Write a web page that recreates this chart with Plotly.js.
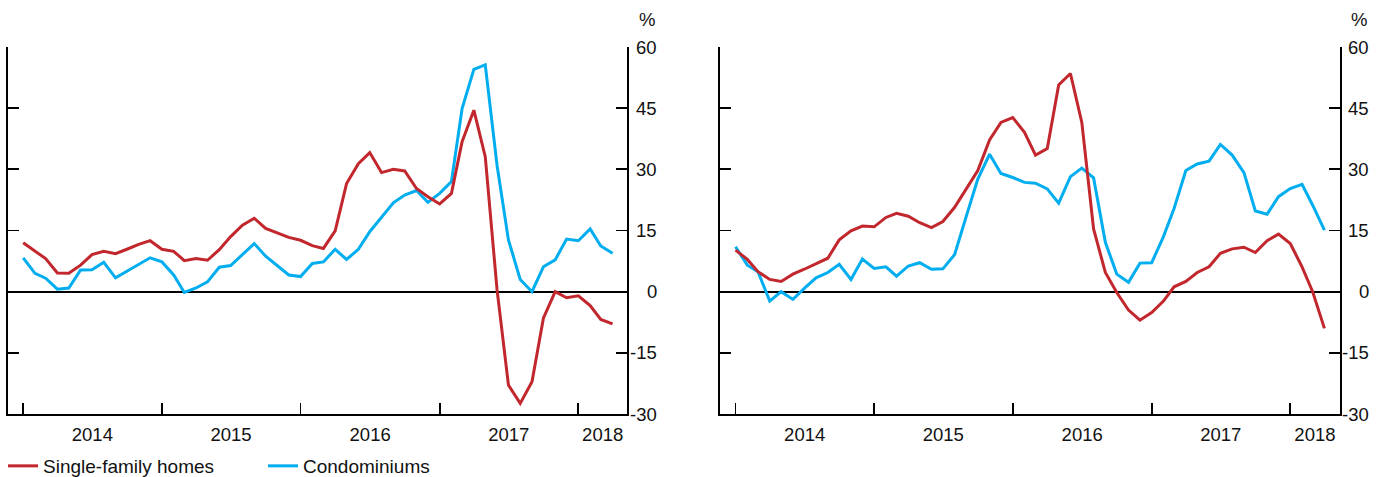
<!DOCTYPE html>
<html><head><meta charset="utf-8">
<script src="https://cdn.plot.ly/plotly-3.0.1.min.js"></script>
<style>html,body{margin:0;padding:0;background:#fff}#chart{width:1382px;height:477px}</style>
</head><body><div id="chart"></div>
<script>
// Monthly observations, Jan 2014 .. Apr 2018
const firstYear = 2014, nMonths = 52;
const months = [];
for (let i = 0; i < nMonths; i++) {
  const y = firstYear + Math.floor(i / 12), m = (i % 12) + 1;
  months.push(y + '-' + String(m).padStart(2, '0') + '-01');
}
const seriesNames = ['Single-family homes', 'Condominiums'];
const seriesColors = ['#c1272d', '#00aeef'];

const leftSingle = [12.0,10.0,8.1,4.6,4.5,6.5,9.1,9.9,9.3,10.4,11.6,12.5,10.4,9.9,7.6,8.1,7.7,10.3,13.5,16.3,18.0,15.5,14.3,13.3,12.6,11.3,10.6,14.9,26.5,31.4,34.1,29.2,30.0,29.6,25.3,23.3,21.5,24.1,36.8,44.5,33.1,0.5,-22.9,-27.4,-22.1,-6.5,0.0,-1.5,-1.0,-3.4,-6.8,-7.9];
const leftCondo = [8.3,4.5,3.3,0.6,0.9,5.3,5.4,7.2,3.4,5.0,6.7,8.3,7.3,4.1,-0.2,0.9,2.4,6.0,6.4,9.2,11.8,8.7,6.4,4.1,3.7,6.9,7.3,10.4,7.9,10.4,14.7,18.4,21.8,23.7,24.8,21.9,24.1,27.0,44.9,54.5,55.6,31.0,12.7,3.0,0.0,6.1,7.8,12.9,12.5,15.4,11.2,9.4];
const rightSingle = [10.2,7.9,4.9,3.0,2.5,4.3,5.5,6.8,8.2,12.7,14.9,16.1,15.9,18.2,19.2,18.5,16.9,15.7,17.2,20.7,25.2,29.7,37.2,41.5,42.7,39.1,33.5,35.1,50.7,53.5,41.5,15.4,4.7,-0.2,-4.5,-7.0,-5.1,-2.3,1.2,2.5,4.7,6.1,9.4,10.5,10.9,9.6,12.5,14.1,11.8,6.1,0.0,-9.0];
const rightCondo = [11.0,6.5,4.9,-2.3,0.0,-1.9,0.8,3.4,4.7,6.7,3.0,8.0,5.7,6.1,3.8,6.3,7.1,5.5,5.6,9.1,18.6,27.6,33.7,29.0,28.0,26.8,26.6,25.2,21.7,28.2,30.3,27.9,12.1,4.3,2.3,7.0,7.1,13.5,20.4,29.7,31.3,32.0,36.1,33.5,29.2,19.8,19.0,23.3,25.3,26.3,21.2,15.1];

const yearLabels = ['2014', '2015', '2016', '2017', '2018'];
const yTickVals = [-30, -15, 0, 15, 30, 45, 60];
const yTickText = ['-30', '-15', '0', '15', '30', '45', '60'];
const unitLabel = '%';

const xRangeLeft = ['2013-11-22', '2018-05-09'];
const xRangeRight = ['2013-11-21', '2018-05-12'];

const FONT = 'Liberation Sans, Arial, Helvetica, sans-serif';
const W = 1382, H = 477;
const M = {l: 8, r: 5, t: 47, b: 63};
const PW = W - M.l - M.r, PH = H - M.t - M.b;
const px = v => (v - M.l) / PW;
const py = v => (H - M.b - v) / PH;

const yearStarts = yearLabels.map(y => y + '-01-01');
function labelPositions(range) {
  const r0 = new Date(range[0]).getTime(), r1 = new Date(range[1]).getTime();
  return yearLabels.map(y => {
    const a = Math.max(new Date(y + '-01-01').getTime(), r0);
    const b = Math.min(new Date((+y + 1) + '-01-01').getTime(), r1);
    return new Date((a + b) / 2).toISOString().slice(0, 10);
  });
}

function xAxis(domain, range, anchor) {
  return {
    domain, range, type: 'date', anchor,
    tickmode: 'array', tickvals: labelPositions(range), ticktext: yearLabels,
    ticks: '', ticklabelstandoff: 3,
    tickfont: {family: FONT, size: 18.5, color: '#111'},
    showline: true, linecolor: '#000', linewidth: 1.8,
    showgrid: false, zeroline: false,
    minor: {tickmode: 'array', tickvals: yearStarts, ticks: 'inside', ticklen: 11, tickwidth: 1.8, tickcolor: '#000', showgrid: false}
  };
}
function yAxis(anchor) {
  return {
    anchor, range: [-30, 60], side: 'right',
    tickmode: 'array', tickvals: yTickVals, showticklabels: false,
    ticks: 'inside', ticklen: 11, tickwidth: 1.8, tickcolor: '#000',
    showline: true, linecolor: '#000', linewidth: 1.8, mirror: 'ticks',
    showgrid: false, zeroline: true, zerolinecolor: '#000', zerolinewidth: 1.8
  };
}

const leftDomain = [0, px(627)];
const rightDomain = [px(720), px(1340)];

function line(x, y, i, xa, ya, show) {
  return {
    x, y, name: seriesNames[i], type: 'scatter', mode: 'lines',
    line: {color: seriesColors[i], width: 3}, xaxis: xa, yaxis: ya,
    showlegend: show, legendrank: i + 1, hoverinfo: 'skip'
  };
}

const data = [
  line(months, leftCondo, 1, 'x', 'y', true),
  line(months, leftSingle, 0, 'x', 'y', true),
  line(months, rightCondo, 1, 'x2', 'y2', false),
  line(months, rightSingle, 0, 'x2', 'y2', false)
];

const labelFont = {family: FONT, size: 18.5, color: '#111'};
const annotations = [];
[['y', px(659)], ['y2', px(1371)]].forEach(([yref, xr]) => {
  yTickVals.forEach((v, k) => annotations.push({
    xref: 'paper', yref, x: xr, y: v, text: yTickText[k], showarrow: false,
    xanchor: 'right', yanchor: 'middle', font: labelFont
  }));
  annotations.push({
    xref: 'paper', yref: 'paper', x: xr - 2 / PW, y: py(20), text: unitLabel, showarrow: false,
    xanchor: 'right', yanchor: 'middle', font: labelFont
  });
});

const layout = {
  width: W, height: H, margin: Object.assign({autoexpand: false}, M),
  paper_bgcolor: '#fff', plot_bgcolor: 'rgba(0,0,0,0)',
  font: {family: FONT, color: '#111'},
  xaxis: xAxis(leftDomain, xRangeLeft, 'y'),
  yaxis: yAxis('x'),
  xaxis2: xAxis(rightDomain, xRangeRight, 'y2'),
  yaxis2: yAxis('x2'),
  showlegend: true,
  legend: {
    orientation: 'h', xref: 'container', yref: 'container',
    x: 3 / W, xanchor: 'left', y: (H - 466) / H, yanchor: 'middle',
    font: {family: FONT, size: 19, color: '#111'},
    entrywidth: 215, bgcolor: 'rgba(0,0,0,0)', itemwidth: 30
  },
  annotations
};

Plotly.newPlot('chart', data, layout, {staticPlot: true, displayModeBar: false});
</script>
</body></html>
